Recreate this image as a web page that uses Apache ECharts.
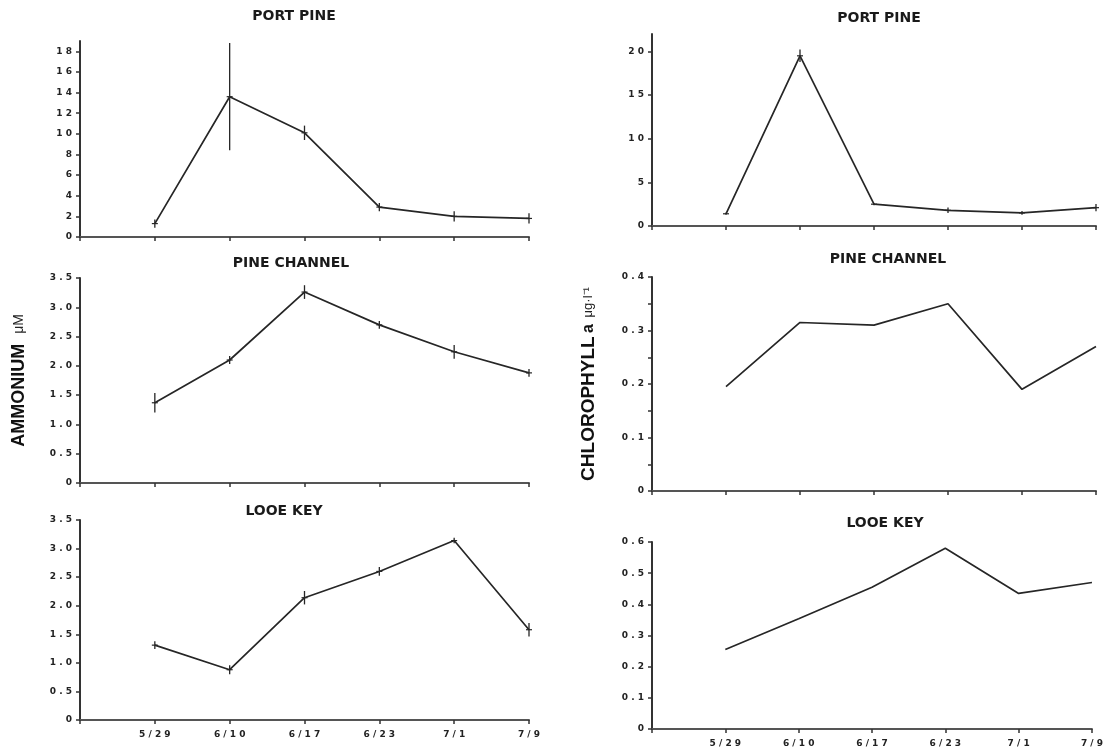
<!DOCTYPE html>
<html>
<head>
<meta charset="utf-8">
<script src="https://cdn.jsdelivr.net/npm/echarts@6/dist/echarts.min.js"></script>
<style>
html,body{margin:0;padding:0;background:#fff;}
#chart{width:1106px;height:749px;}
</style>
</head>
<body>
<div id="chart"></div>
<script>
// ---- data ----
const dates = ['5/29', '6/10', '6/17', '6/23', '7/1', '7/9'];

const ammPortPine      = [1.3, 13.6, 10.1, 2.9, 2.0, 1.8];
const ammPortPineErr   = [0.3, 5.1, 0.6, 0.3, 0.4, 0.4];
const ammPineChannel   = [1.37, 2.1, 3.26, 2.7, 2.24, 1.88];
const ammPineChannelErr= [0.15, 0.05, 0.1, 0.05, 0.1, 0.05];
const ammLooeKey       = [1.31, 0.88, 2.14, 2.6, 3.14, 1.58];
const ammLooeKeyErr    = [0.05, 0.06, 0.1, 0.06, 0.03, 0.1];

const chlPortPine      = [1.4, 19.5, 2.5, 1.8, 1.5, 2.1];
const chlPortPineErr   = [0, 0.6, 0, 0.2, 0.1, 0.3];
const chlPineChannel   = [0.195, 0.315, 0.31, 0.35, 0.19, 0.27];
const chlLooeKey       = [0.255, 0.354, 0.455, 0.58, 0.435, 0.47];

// tick values
const ammPortPineTicks = [0, 2, 4, 6, 8, 10, 12, 14, 16, 18];
const ammTicks         = [0, 0.5, 1.0, 1.5, 2.0, 2.5, 3.0, 3.5];
const chlPortPineTicks = [0, 5, 10, 15, 20];
const chlPineLabels    = [0, 0.1, 0.2, 0.3, 0.4];
const chlPineTicks     = [0, 0.05, 0.1, 0.15, 0.2, 0.25, 0.3, 0.35, 0.4];
const chlLooeTicks     = [0, 0.1, 0.2, 0.3, 0.4, 0.5, 0.6];

const titles = ['PORT PINE', 'PINE CHANNEL', 'LOOE KEY', 'PORT PINE', 'PINE CHANNEL', 'LOOE KEY'];

// ---- build ----
const spaced = s => String(s).split('').join(' ');
const fmtInt = v => spaced(String(Math.round(v)));
const fmtDec = v => spaced(v === 0 ? '0' : v.toFixed(1));

const grids = [
  {left: 80,  top: 41,  width: 449, height: 196},
  {left: 80,  top: 278, width: 449, height: 205},
  {left: 80,  top: 520, width: 449, height: 200},
  {left: 652, top: 34,  width: 444, height: 192},
  {left: 652, top: 277, width: 444, height: 214},
  {left: 652, top: 542, width: 444, height: 187}
];

const yCfg = [
  {max: 19,  labels: ammPortPineTicks, ticks: ammPortPineTicks, fmt: fmtInt},
  {max: 3.5, labels: ammTicks, ticks: ammTicks, fmt: fmtDec},
  {max: 3.5, labels: ammTicks, ticks: ammTicks, fmt: fmtDec},
  {max: 22,  labels: chlPortPineTicks, ticks: chlPortPineTicks, fmt: fmtInt},
  {max: 0.4, labels: chlPineLabels, ticks: chlPineTicks, fmt: fmtDec},
  {max: 0.6, labels: chlLooeTicks, ticks: chlLooeTicks, fmt: fmtDec}
];

const seriesVals = [ammPortPine, ammPineChannel, ammLooeKey, chlPortPine, chlPineChannel, chlLooeKey];
const seriesErr  = [ammPortPineErr, ammPineChannelErr, ammLooeKeyErr, chlPortPineErr, null, null];

const lineColor = '#262626';
const labelFont = {fontFamily: 'DejaVu Sans', fontWeight: 'bold', fontSize: 9, color: '#222'};

const xAxes = grids.map((g, i) => ({
  type: 'category',
  gridIndex: i,
  data: [''].concat(dates),
  boundaryGap: false,
  axisLine: {lineStyle: {color: '#555', width: 2}},
  axisTick: {show: true, interval: 0, length: 4, lineStyle: {color: '#333', width: 1.5}},
  axisLabel: Object.assign({show: i === 2 || i === 5, interval: 0, margin: 10,
    formatter: v => spaced(v)}, labelFont),
  splitLine: {show: false}
}));

const yAxes = yCfg.map((c, i) => {
  const ax = {
    type: 'value',
    gridIndex: i,
    min: 0,
    max: c.max,
    axisLine: {show: true, lineStyle: {color: '#333', width: 2}},
    axisTick: {show: true, length: 4, customValues: c.ticks, lineStyle: {color: '#333', width: 1.5}},
    axisLabel: Object.assign({customValues: c.labels, margin: 8, formatter: c.fmt}, labelFont),
    splitLine: {show: false}
  };
  if (i === 1) {
    ax.name = '{a|AMMONIUM}   {b|μM}';
    ax.nameLocation = 'middle';
    ax.nameRotate = 90;
    ax.nameGap = 52;
    ax.nameTextStyle = {rich: {
      a: {fontFamily: 'Liberation Sans', fontWeight: 'bold', fontSize: 18, color: '#111'},
      b: {fontFamily: 'Liberation Sans', fontSize: 14, color: '#222'}
    }};
  }
  if (i === 4) {
    ax.name = '{a|CHLOROPHYLL} {u|a}  {b|μg·l⁻¹}';
    ax.nameLocation = 'middle';
    ax.nameRotate = 90;
    ax.nameGap = 54;
    ax.nameTextStyle = {rich: {
      a: {fontFamily: 'Liberation Sans', fontWeight: 'bold', fontSize: 19, color: '#111'},
      u: {fontFamily: 'Liberation Sans', fontWeight: 'bold', fontSize: 16, color: '#111'},
      b: {fontFamily: 'Liberation Sans', fontSize: 13, color: '#222'}
    }};
  }
  return ax;
});

const series = [];
seriesVals.forEach((vals, i) => {
  series.push({
    type: 'line',
    xAxisIndex: i,
    yAxisIndex: i,
    data: [null].concat(vals),
    symbol: 'none',
    lineStyle: {color: lineColor, width: 1.7},
    animation: false
  });
  const errs = seriesErr[i];
  if (errs) {
    series.push({
      type: 'custom',
      xAxisIndex: i,
      yAxisIndex: i,
      data: vals.map((v, k) => [k + 1, v - errs[k], v + errs[k]]),
      renderItem: (params, api) => {
        const x = api.value(0);
        const p1 = api.coord([x, api.value(1)]);
        const p2 = api.coord([x, api.value(2)]);
        const pm = api.coord([x, (api.value(1) + api.value(2)) / 2]);
        return {
          type: 'group',
          children: [
            {type: 'line', shape: {x1: p1[0], y1: p1[1] + 1, x2: p2[0], y2: p2[1] - 1},
             style: {stroke: lineColor, lineWidth: 1.3}},
            {type: 'line', shape: {x1: pm[0] - 3, y1: pm[1], x2: pm[0] + 3, y2: pm[1]},
             style: {stroke: lineColor, lineWidth: 1.2}}
          ]
        };
      },
      animation: false,
      z: 3
    });
  }
});

const titlePos = [[294, 16], [291, 263], [284, 511], [879, 18], [888, 259], [885, 523]];
const graphics = titles.map((t, i) => ({
  type: 'text',
  x: titlePos[i][0],
  y: titlePos[i][1],
  style: {
    text: t,
    fontFamily: 'DejaVu Sans',
    fontWeight: 'bold',
    fontSize: 14,
    fill: '#1a1a1a',
    align: 'center',
    verticalAlign: 'middle',
    textAlign: 'center',
    textVerticalAlign: 'middle'
  }
}));

const chart = echarts.init(document.getElementById('chart'), null, {renderer: 'canvas'});
chart.setOption({
  backgroundColor: '#ffffff',
  animation: false,
  grid: grids,
  xAxis: xAxes,
  yAxis: yAxes,
  series: series,
  graphic: graphics
});
</script>
</body>
</html>
